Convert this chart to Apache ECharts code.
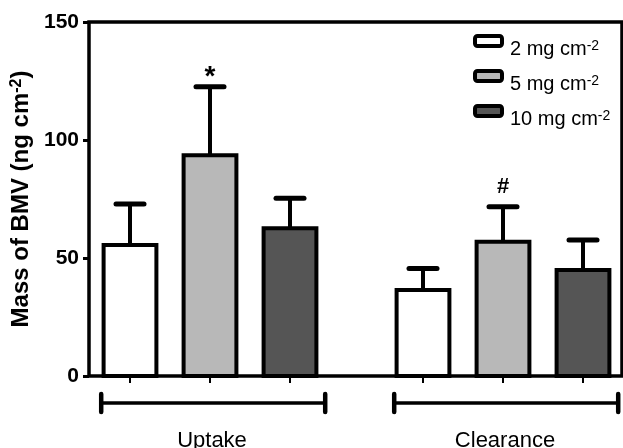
<!DOCTYPE html>
<html><head><meta charset="utf-8">
<script src="https://cdn.jsdelivr.net/npm/echarts@6/dist/echarts.min.js"></script>
<style>html,body{margin:0;padding:0;background:#fff}#c{width:623px;height:448px}</style>
</head><body><div id="c"></div>
<script>
// ---- data ----
const groups = ['Uptake', 'Clearance'];
const doses = ['2 mg cm', '5 mg cm', '10 mg cm'];
const mean2 = [55.5, 36.4];
const sem2 = [17.4, 9.2];
const mean5 = [93.5, 56.9];
const sem5 = [29.1, 14.8];
const mean10 = [62.6, 44.9];
const sem10 = [12.7, 12.7];
const marks5 = ['*', '#'];
const yTicks = [0, 50, 100, 150];

// ---- layout helpers ----
const FONT = "'Liberation Sans', Arial, sans-serif";
const colors = ['#ffffff', '#b8b8b8', '#555555'];
const GROUP_STEP = 3.6625;           // distance between group starts (bar units)
function xpos(g, s) { return g * GROUP_STEP + s; }

const chart = echarts.init(document.getElementById('c'));

function barItem(params, api) {
  const x = api.value(0), m = api.value(1), e = api.value(2);
  const mark = params.seriesIndex === 1 ? marks5[params.dataIndex] : '';
  const p0 = api.coord([x, 0]);
  const pt = api.coord([x, m]);
  const pe = api.coord([x, m + e]);
  const w = api.size([0.66, 0])[0];
  const ch = [
    { type: 'rect', shape: { x: pt[0] - w / 2, y: pt[1], width: w, height: p0[1] - pt[1] },
      style: { fill: api.visual('color'), stroke: '#000', lineWidth: 4 } },
    { type: 'line', shape: { x1: pt[0], y1: pt[1], x2: pe[0], y2: pe[1] },
      style: { stroke: '#000', lineWidth: 4 } },
    { type: 'line', shape: { x1: pe[0] - 14, y1: pe[1], x2: pe[0] + 14, y2: pe[1] },
      style: { stroke: '#000', lineWidth: 5, lineCap: 'round' } },
    { type: 'line', shape: { x1: p0[0], y1: p0[1], x2: p0[0], y2: p0[1] + 7 },
      style: { stroke: '#000', lineWidth: 2 } }
  ];
  if (mark) {
    const star = mark === '*';
    ch.push({ type: 'text', style: { text: mark, x: pe[0], y: pe[1] + (star ? 5 : -9),
      textAlign: 'center', textVerticalAlign: 'bottom',
      font: 'bold ' + (star ? 28 : 22) + 'px ' + FONT, fill: '#000' } });
  }
  return { type: 'group', children: ch };
}

function groupItem(params, api) {
  const x = api.value(0);
  const left = api.coord([x - 1.36, 0]);
  const right = api.coord([x + 1.44, 0]);
  const c = api.coord([x, 0]);
  const y = c[1] + 27;
  return { type: 'group', children: [
    { type: 'line', shape: { x1: left[0], y1: y, x2: right[0], y2: y }, style: { stroke: '#000', lineWidth: 3.5 } },
    { type: 'line', shape: { x1: left[0], y1: y - 9, x2: left[0], y2: y + 9 }, style: { stroke: '#000', lineWidth: 4.5, lineCap: 'round' } },
    { type: 'line', shape: { x1: right[0], y1: y - 9, x2: right[0], y2: y + 9 }, style: { stroke: '#000', lineWidth: 4.5, lineCap: 'round' } },
    { type: 'text', style: { text: groups[params.dataIndex], x: c[0] + 2, y: c[1] + 65,
      textAlign: 'center', textVerticalAlign: 'middle', font: '22px ' + FONT, fill: '#000' } }
  ] };
}

const meanSets = [mean2, mean5, mean10];
const semSets = [sem2, sem5, sem10];

const series = doses.map((d, s) => ({
  name: d,
  type: 'custom',
  renderItem: barItem,
  itemStyle: { color: colors[s], borderColor: '#000', borderWidth: 4 },
  encode: { x: 0, y: 1 },
  data: groups.map((g, gi) => [xpos(gi, s), meanSets[s][gi], semSets[s][gi]]),
  z: 5
}));
series.push({
  name: 'groups',
  type: 'custom',
  renderItem: groupItem,
  encode: { x: 0, y: 1 },
  data: groups.map((g, gi) => [xpos(gi, 1), 0]),
  silent: true
});

chart.setOption({
  animation: false,
  backgroundColor: '#fff',
  grid: { left: 89, right: 1, top: 22, bottom: 72, show: true, borderColor: '#000', borderWidth: 3.5, containLabel: false },
  xAxis: {
    type: 'value', min: -0.5125, max: 6.15,
    axisLine: { show: false, onZero: false }, axisTick: { show: false }, axisLabel: { show: false }, splitLine: { show: false }
  },
  yAxis: {
    type: 'value', min: yTicks[0], max: yTicks[yTicks.length - 1], interval: 50,
    axisLine: { show: false, onZero: false },
    axisTick: { show: true, length: 6, lineStyle: { color: '#000', width: 3 } },
    axisLabel: { color: '#000', fontFamily: FONT, fontWeight: 'bold', fontSize: 21, margin: 10 },
    splitLine: { show: false },
    name: '{a|Mass of BMV (ng cm}{s|-2}{a|)}',
    nameLocation: 'middle', nameRotate: 90, nameGap: 49,
    nameTextStyle: { fontFamily: FONT, rich: {
      a: { fontSize: 24, fontWeight: 'bold', fontFamily: FONT, color: '#000' },
      s: { fontSize: 16, fontWeight: 'bold', fontFamily: FONT, color: '#000', verticalAlign: 'top' }
    } }
  },
  legend: {
    data: doses, orient: 'vertical', left: 468, top: 29,
    itemWidth: 27, itemHeight: 10, itemGap: 10,
    itemStyle: { borderColor: '#000', borderWidth: 4 },
    formatter: n => '{a|' + n + '}{s|-2}',
    textStyle: { padding: [16, 0, 0, 3], rich: {
      a: { fontSize: 20, fontFamily: FONT, color: '#000' },
      s: { fontSize: 14, fontFamily: FONT, color: '#000', verticalAlign: 'top' }
    } }
  },
  series: series
});
</script>
</body></html>
